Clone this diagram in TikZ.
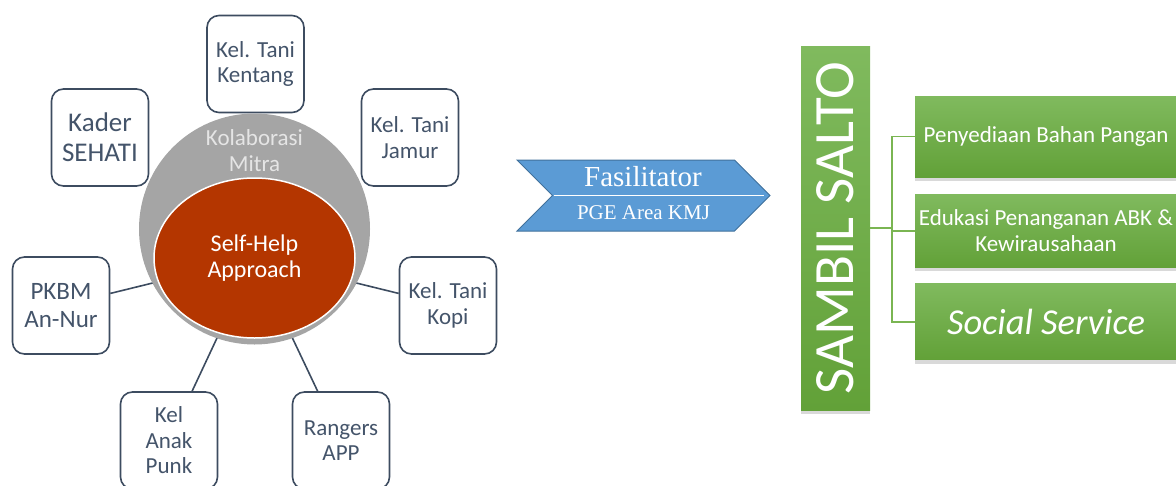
\documentclass[tikz,border=0pt]{standalone}
\usepackage{fontspec}
\setmainfont{Carlito}
\newfontfamily\serifface{Liberation Serif}
\usetikzlibrary{positioning,shapes.geometric,shapes.symbols,shadows}

\definecolor{slate}{RGB}{61,76,96}
\definecolor{slatetext}{RGB}{68,84,106}
\definecolor{mitragrey}{RGB}{165,165,165}
\definecolor{selfred}{RGB}{180,54,0}
\definecolor{arrowblue}{RGB}{91,155,213}
\definecolor{arrowedge}{RGB}{65,113,156}
\definecolor{greentop}{RGB}{128,186,94}
\definecolor{greenbot}{RGB}{98,161,56}
\definecolor{greenline}{RGB}{122,181,82}

\begin{document}
\begin{tikzpicture}[x=1pt,y=-1pt,
  partner/.style={draw=slate, line width=1.6pt, rounded corners=12pt, fill=white,
    minimum width=97pt, minimum height=97pt, inner sep=0pt, align=center,
    text=slatetext, font=\fontsize{23}{25.5}\selectfont},
  link/.style={draw=slate, line width=1.6pt},
  greenbox/.style={top color=greentop, bottom color=greenbot, text=white,
    align=center, minimum width=262pt, inner sep=0pt,
    drop shadow={opacity=0.3, shadow xshift=0pt, shadow yshift=-4pt}},
  branch/.style={draw=greenline, line width=1.5pt}]
  \useasboundingbox (0,0) rectangle (1176,485);

  % Partners round the circle
  \node[partner] (kentang) at (255.5,64) {Kel. Tani\\Kentang};
  \node[partner, font=\fontsize{27}{30}\selectfont] (kader) at (100,137.5) {Kader\\SEHATI};
  \node[partner] (jamur) at (410,137.5) {Kel. Tani\\Jamur};
  \node[partner, font=\fontsize{25}{28}\selectfont] (pkbm) at (61,305.5) {PKBM\\An-Nur};
  \node[partner] (kopi) at (448,305.5) {Kel. Tani\\Kopi};
  \node[partner] (punk) at (169,440.5) {Kel\\Anak\\Punk};
  \node[partner] (rangers) at (341,440.5) {Rangers\\APP};

  % Links, half hidden under the circle
  \coordinate (hub) at (254.5,258);
  \foreach \p in {pkbm,kopi,punk,rangers}
    \draw[link] (hub) -- (\p);

  % Kolaborasi Mitra and Self-Help
  \node[circle, fill=mitragrey, minimum size=231pt] (mitra) at (254.5,229) {};
  \node[text=white!90!black, align=center, font=\fontsize{23}{26}\selectfont]
    (mitratext) at (254.5,151) {Kolaborasi\\Mitra};
  \node[ellipse, fill=selfred, draw=white, line width=1.5pt, minimum width=201pt,
    minimum height=160pt, text=white, align=center, font=\fontsize{24}{26}\selectfont]
    (self) at (254.5,258) {Self-Help\\Approach};

  % Fasilitator arrow
  \node[signal, signal from=west, signal to=east, signal pointer angle=90,
    fill=arrowblue, draw=arrowedge, line width=1pt, minimum width=253pt,
    minimum height=71pt, inner sep=0pt] (fasil) at (643.5,195.5) {};
  \draw[white, line width=1pt] ([xshift=-90pt]fasil.center) -- ([xshift=120pt]fasil.center);
  \node[text=white, font=\serifface\fontsize{29}{30}\selectfont] (fasiltext) at (643,177) {Fasilitator};
  \node[text=white, font=\serifface\fontsize{21}{24}\selectfont] (pge) at (643.5,213) {PGE Area KMJ};

  % SAMBIL SALTO and its programmes
  \node[top color=greentop, bottom color=greenbot, minimum width=69pt,
    minimum height=364pt, inner sep=0pt, text=white, font=\fontsize{57}{60}\selectfont,
    drop shadow={opacity=0.3, shadow xshift=0pt, shadow yshift=-4pt}]
    (sambil) at (835.5,228) {\rotatebox{90}{SAMBIL SALTO}};
  \node[greenbox, minimum height=81pt, font=\fontsize{23}{26}\selectfont]
    (pangan) at (1046,136.5) {Penyediaan Bahan Pangan};
  \node[greenbox, minimum height=73pt, below=17pt of pangan, font=\fontsize{23}{26}\selectfont]
    (edukasi) {Edukasi Penanganan ABK \&\\Kewirausahaan};
  \node[greenbox, minimum height=76pt, below=16pt of edukasi, font=\itshape\fontsize{36.5}{40}\selectfont]
    (social) {Social Service};

  \coordinate (split) at ([xshift=22pt]sambil.east);
  \draw[branch] (sambil.east) -- (split);
  \foreach \b in {pangan,edukasi,social}
    \draw[branch] (split) |- (\b.west);
\end{tikzpicture}
\end{document}
